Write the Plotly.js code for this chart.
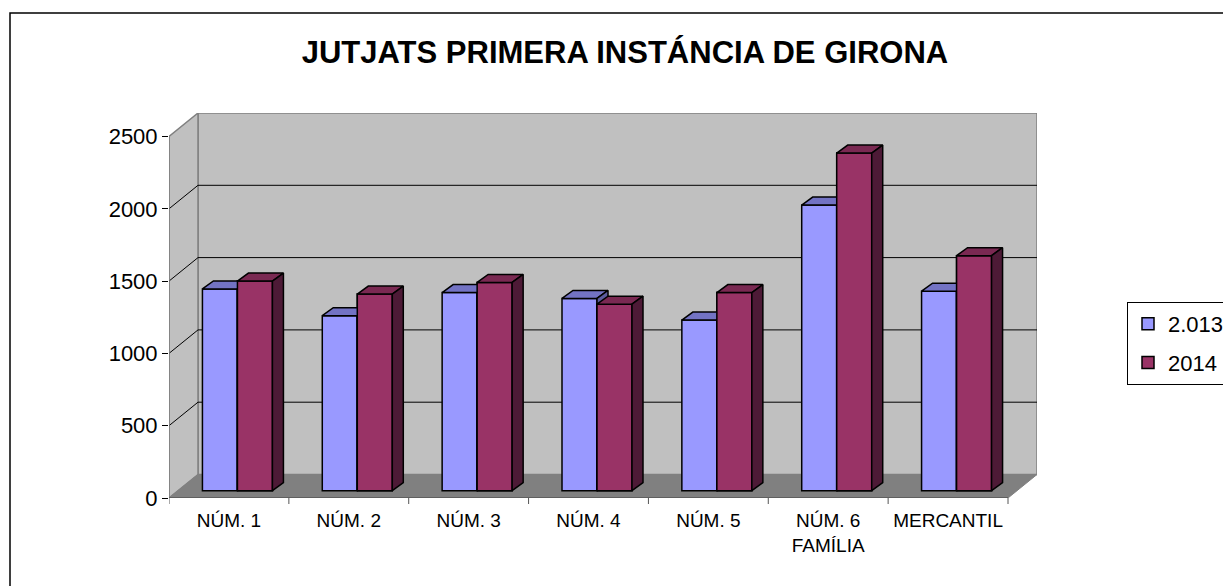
<!DOCTYPE html>
<html>
<head>
<meta charset="utf-8">
<script src="https://cdn.plot.ly/plotly-3.0.1.min.js"></script>
<style>html,body{margin:0;padding:0;background:#fff;}#chart{width:1223px;height:586px;}</style>
</head>
<body>
<div id="chart"></div>
<script>
// ---- data ----
const categories = ['NÚM. 1', 'NÚM. 2', 'NÚM. 3', 'NÚM. 4', 'NÚM. 5', 'NÚM. 6<br>FAMÍLIA', 'MERCANTIL'];
const seriesNames = ['2.013', '2014'];
const values2013 = [1395, 1210, 1370, 1330, 1180, 1975, 1380];
const values2014 = [1450, 1360, 1440, 1290, 1370, 2335, 1625];
const yTickVals = [0, 500, 1000, 1500, 2000, 2500];
const yTickText = ['0', '500', '1000', '1500', '2000', '2500'];

// ---- 3D look geometry (pixel-based helpers converted to axis units) ----
const PXX = 119.85;         // px per category unit
const PXY = 0.1446;         // px per value unit
const D = 29 / PXX;          // wall depth in x units
const DY = 23.5 / PXY;       // wall depth in y units
const YMAX = 2500;
const baseU = 7.3 / PXY;     // bar front bottom above front floor edge
const shift = 8.5 / PXX;     // bar x shift due to depth
const w = 35 / PXX;          // bar width
const dx = 11 / PXX;         // bar depth x
const dyU = 8 / PXY;         // bar depth y
const n = categories.length;
const xIdx = categories.map((c, i) => i);

const FONT = 'Arial, "Liberation Sans", sans-serif';
const C = {
  blueFront: '#9999FF', blueTop: '#7373C4', blueSide: '#5C5C9E',
  redFront: '#993366', redTop: '#7A2952', redSide: '#4D1A36',
  wall: '#C0C0C0', floor: '#808080', edge: '#808080'
};

function poly(list) {
  const xs = [], ys = [];
  list.forEach(p => { p.forEach(pt => { xs.push(pt[0]); ys.push(pt[1]); }); xs.push(p[0][0]); ys.push(p[0][1]); xs.push(null); ys.push(null); });
  return {x: xs, y: ys};
}
function frontFace(xl, xr, b, t) { return [[xl, b], [xr, b], [xr, t], [xl, t]]; }
function topFace(xl, xr, t) { return [[xl, t], [xr, t], [xr + dx, t + dyU], [xl + dx, t + dyU]]; }
function sideFace(xr, b, t) { return [[xr, b], [xr + dx, b + dyU], [xr + dx, t + dyU], [xr, t]]; }

const blueX = xIdx.map(i => i + shift - w / 2);
const redX = xIdx.map(i => i + shift + w / 2);

const blueTops = [], blueSides = [], redFronts = [], redTops = [], redSides = [];
xIdx.forEach(i => {
  const bl = blueX[i] - w / 2, br = blueX[i] + w / 2;
  const rl = redX[i] - w / 2, rr = redX[i] + w / 2;
  const bt = baseU + values2013[i], rt = baseU + values2014[i];
  blueTops.push(topFace(bl, br, bt));
  blueSides.push(sideFace(br, baseU, bt));
  redFronts.push(frontFace(rl, rr, baseU, rt));
  redTops.push(topFace(rl, rr, rt));
  redSides.push(sideFace(rr, baseU, rt));
});

function faceTrace(list, color) {
  const p = poly(list);
  return {type: 'scatter', mode: 'lines', x: p.x, y: p.y, fill: 'toself', fillcolor: color,
    line: {color: '#000', width: 1.5}, showlegend: false, hoverinfo: 'skip', connectgaps: false};
}

const traces = [
  {type: 'bar', name: seriesNames[0], x: blueX, y: values2013, base: baseU, width: w,
   marker: {color: C.blueFront, line: {color: '#000', width: 1.5}}, legendgroup: 'a'},
  {type: 'bar', name: seriesNames[1], x: redX, y: values2014, base: baseU, width: w,
   marker: {color: C.redFront, line: {color: '#000', width: 1.5}}, legendgroup: 'b'},
  faceTrace(blueTops, C.blueTop),
  faceTrace(blueSides, C.blueSide),
  faceTrace(redFronts, C.redFront),
  faceTrace(redTops, C.redTop),
  faceTrace(redSides, C.redSide)
];

// ---- walls, floor, gridlines ----
const x0 = -0.5, x1 = n - 0.5;
const shapes = [];
shapes.push({type: 'path', layer: 'below', xref: 'x', yref: 'y',
  path: `M${x0 + D},${DY} L${x1 + D},${DY} L${x1 + D},${YMAX + DY} L${x0 + D},${YMAX + DY} Z`,
  fillcolor: C.wall, line: {color: C.edge, width: 1.5}});
shapes.push({type: 'path', layer: 'below', xref: 'x', yref: 'y',
  path: `M${x0},0 L${x0 + D},${DY} L${x0 + D},${YMAX + DY} L${x0},${YMAX} Z`,
  fillcolor: C.wall, line: {color: C.edge, width: 1.5}});
shapes.push({type: 'path', layer: 'below', xref: 'x', yref: 'y',
  path: `M${x0},0 L${x1},0 L${x1 + D},${DY} L${x0 + D},${DY} Z`,
  fillcolor: C.floor, line: {color: C.edge, width: 1}});
yTickVals.filter(v => v > 0 && v < YMAX).forEach(v => {
  shapes.push({type: 'path', layer: 'below', xref: 'x', yref: 'y',
    path: `M${x0},${v} L${x0 + D},${v + DY} L${x1 + D},${v + DY}`,
    line: {color: '#000', width: 1}});
});
// front axis lines
shapes.push({type: 'line', layer: 'below', xref: 'x', yref: 'y', x0: x0, x1: x0, y0: 0, y1: YMAX, line: {color: C.edge, width: 1.5}});
shapes.push({type: 'line', layer: 'below', xref: 'x', yref: 'y', x0: x0, x1: x1, y0: 0, y1: 0, line: {color: '#555', width: 1.5}});
for (let k = 0; k <= n; k++) {
  shapes.push({type: 'line', xref: 'x', yref: 'paper', x0: x0 + k, x1: x0 + k, y0: 0, y1: -6 / 385, line: {color: '#555', width: 1}});
}
// outer chart border
shapes.push({type: 'rect', xref: 'paper', yref: 'paper', x0: (10 - 169) / 868, x1: 1.25, y0: -0.3, y1: (498 - 13) / 385,
  line: {color: '#000', width: 1.5}, fillcolor: 'rgba(0,0,0,0)'});

const layout = {
  width: 1223, height: 586,
  margin: {l: 169, r: 186, t: 113, b: 88, autoexpand: false},
  paper_bgcolor: '#fff', plot_bgcolor: 'rgba(0,0,0,0)',
  font: {family: FONT, color: '#000'},
  title: {text: 'JUTJATS PRIMERA INSTÁNCIA DE GIRONA', font: {family: FONT, size: 31, weight: 'bold', color: '#000'},
    x: 0.511, xref: 'container', xanchor: 'center', y: 1 - 52 / 586, yref: 'container', yanchor: 'middle'},
  barmode: 'overlay',
  hovermode: false,
  showlegend: true,
  legend: {x: (1127 - 169) / 868, y: (498 - 302) / 385, xanchor: 'left', yanchor: 'top',
    bordercolor: '#000', borderwidth: 1, bgcolor: '#fff', font: {family: FONT, size: 22},
    traceorder: 'grouped', tracegroupgap: 7},
  xaxis: {range: [x0, x1 + D], tickvals: xIdx, ticktext: categories, ticks: '', showgrid: false,
    zeroline: false, showline: false, tickfont: {family: FONT, size: 19}, ticklabelstandoff: 9, fixedrange: true},
  yaxis: {range: [0, YMAX + DY], tickvals: yTickVals, ticktext: yTickText, ticks: 'outside', ticklen: 6,
    tickcolor: '#000', showgrid: false, zeroline: false, showline: false,
    tickfont: {family: FONT, size: 22}, fixedrange: true},
  shapes: shapes
};

Plotly.newPlot('chart', traces, layout, {displayModeBar: false, staticPlot: true});
</script>
</body>
</html>
